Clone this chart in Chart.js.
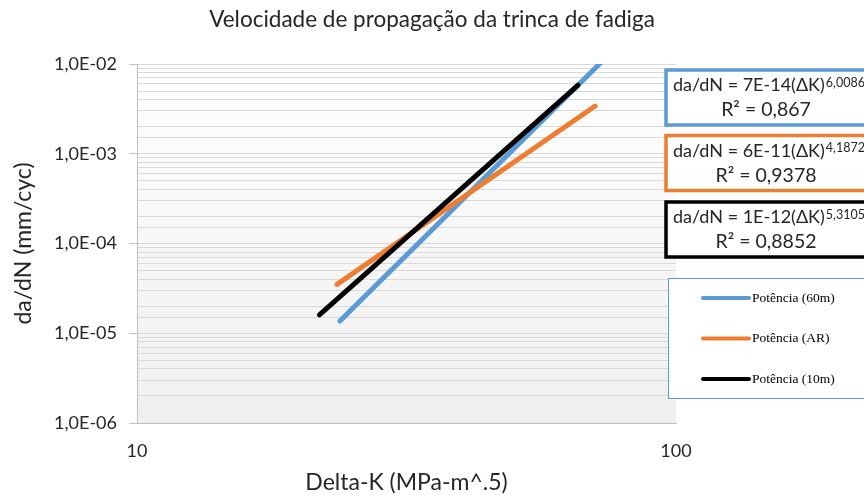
<!DOCTYPE html>
<html>
<head>
<meta charset="utf-8">
<script src="https://cdn.jsdelivr.net/npm/chart.js@4.4.0/dist/chart.umd.min.js"></script>
<style>
body { margin: 0; background: #fff; }
</style>
</head>
<body>
<canvas id="chart" width="864" height="496"></canvas>
<script>
// linhas de tendencia (potencia): pontos extremos
var seriesNames = ["Potência (60m)", "Potência (AR)", "Potência (10m)"];
var seriesColors = ["#5B9BD5", "#ED7D31", "#000000"];
var deltaK60 = [23.8, 73.5];
var dadN60 = [1.37e-5, 1.12e-2];
var deltaKAR = [23.5, 70.8];
var dadNAR = [3.5e-5, 3.4e-3];
var deltaK10 = [21.8, 65.8];
var dadN10 = [1.6e-5, 5.8e-3];

var eqTexts = ["da/dN = 7E-14(ΔK)", "da/dN = 6E-11(ΔK)", "da/dN = 1E-12(ΔK)"];
var eqExps = ["6,0086", "4,1872", "5,3105"];
var r2Texts = ["R² = 0,867", "R² = 0,9378", "R² = 0,8852"];

var xTickLabels = [10, 100];
var yTickLabels = [1e-6, 1e-5, 1e-4, 1e-3, 1e-2];

var textColor = "#262626";
var fontName = "Lato";

let toPoints = (xs, ys) => xs.map((x, i) => ({ x: x, y: ys[i] }));

let isIn = (v, list) => list.some(t => Math.abs(Math.log10(v) - Math.log10(t)) < 1e-6);

let yLabel = (v) => {
    let e = Math.round(Math.log10(v));
    return "1,0E-" + String(-e).padStart(2, "0");
}

let makeSet = (i, xs, ys, order) => {
    return {
        label: seriesNames[i],
        data: toPoints(xs, ys),
        showLine: true,
        borderColor: seriesColors[i],
        backgroundColor: seriesColors[i],
        borderWidth: 5,
        borderCapStyle: "round",
        pointRadius: 0,
        clip: 0,
        order: order
    }
}

// fundo em degrade da area do grafico
var bgPlugin = {
    id: "bg",
    beforeDraw(chart) {
        let a = chart.chartArea, ctx = chart.ctx;
        let g = ctx.createLinearGradient(0, a.top, 0, a.bottom);
        g.addColorStop(0, "#ffffff");
        g.addColorStop(1, "#efefef");
        ctx.save();
        ctx.fillStyle = g;
        ctx.fillRect(a.left, a.top, a.right - a.left, a.bottom - a.top);
        ctx.restore();
    }
}

// caixas com equacoes e legenda
var boxPlugin = {
    id: "boxes",
    afterDraw(chart) {
        let ctx = chart.ctx;
        ctx.save();
        let tops = [70, 135.5, 202];
        for (let i = 0; i < 3; i++) {
            let t = tops[i];
            ctx.fillStyle = "#ffffff";
            ctx.fillRect(666, t, 210, 55);
            ctx.strokeStyle = seriesColors[i];
            ctx.lineWidth = 3.5;
            ctx.strokeRect(666, t, 210, 55);
            ctx.fillStyle = textColor;
            ctx.textBaseline = "alphabetic";
            ctx.textAlign = "left";
            ctx.font = "18px " + fontName;
            ctx.fillText(eqTexts[i], 673, t + 21);
            let w = ctx.measureText(eqTexts[i]).width;
            ctx.font = "12.5px " + fontName;
            ctx.fillText(eqExps[i], 673 + w + 1, t + 16.5);
            ctx.font = "19.5px " + fontName;
            ctx.textAlign = "center";
            ctx.fillText(r2Texts[i], 766, t + 46);
        }
        // legenda
        ctx.fillStyle = "#ffffff";
        ctx.fillRect(668.5, 278.5, 210, 120);
        ctx.strokeStyle = "#5B9BD5";
        ctx.lineWidth = 1;
        ctx.strokeRect(668.5, 278.5, 210, 120);
        let ys = [298, 338.5, 379];
        for (let i = 0; i < 3; i++) {
            ctx.strokeStyle = seriesColors[i];
            ctx.lineWidth = 4;
            ctx.lineCap = "round";
            ctx.beginPath();
            ctx.moveTo(703, ys[i]);
            ctx.lineTo(749, ys[i]);
            ctx.stroke();
            ctx.fillStyle = "#000000";
            ctx.font = "13.5px 'Liberation Serif'";
            ctx.textAlign = "left";
            ctx.textBaseline = "middle";
            ctx.fillText(chart.data.datasets[i].label, 752, ys[i]);
        }
        ctx.restore();
    }
}

var canvas = document.getElementById("chart");

let chart = new Chart(canvas, {
    type: "scatter",
    data: {
        datasets: [
            makeSet(0, deltaK60, dadN60, 3),
            makeSet(1, deltaKAR, dadNAR, 2),
            makeSet(2, deltaK10, dadN10, 1)
        ]
    },
    options: {
        responsive: false,
        animation: false,
        layout: { padding: 0 },
        plugins: {
            legend: { display: false },
            tooltip: { enabled: false },
            title: {
                display: true,
                text: "Velocidade de propagação da trinca de fadiga",
                color: textColor,
                font: { family: fontName, size: 22.5, weight: "normal" },
                padding: { top: 6.5, bottom: 30.5 }
            }
        },
        scales: {
            x: {
                type: "logarithmic",
                min: 10,
                max: 100,
                grid: { display: false, drawTicks: false },
                border: { display: true, color: "#bfbfbf", width: 1 },
                ticks: {
                    autoSkip: false,
                    maxRotation: 0,
                    padding: 17,
                    color: textColor,
                    font: { family: fontName, size: 18 },
                    callback: (v) => isIn(v, xTickLabels) ? String(Math.round(v)) : null
                },
                title: {
                    display: true,
                    text: "Delta-K (MPa-m^.5)",
                    color: textColor,
                    font: { family: fontName, size: 23 },
                    padding: { top: 0, bottom: 0 }
                },
                afterFit: (s) => { s.height = 73; }
            },
            y: {
                type: "logarithmic",
                min: 1e-6,
                max: 1e-2,
                grid: {
                    color: "#d9d9d9",
                    tickLength: 8,
                    tickColor: (c) => (c.tick && isIn(c.tick.value, yTickLabels)) ? "#bfbfbf" : "rgba(0,0,0,0)"
                },
                border: { display: true, color: "#bfbfbf", width: 1 },
                ticks: {
                    autoSkip: false,
                    padding: 12,
                    color: textColor,
                    font: { family: fontName, size: 18 },
                    callback: (v) => isIn(v, yTickLabels) ? yLabel(v) : ""
                },
                title: {
                    display: true,
                    text: "da/dN (mm/cyc)",
                    color: textColor,
                    font: { family: fontName, size: 23 },
                    padding: { top: 10, bottom: 0 }
                },
                afterFit: (s) => { s.width = 137; }
            },
            // eixo vazio a direita so para reservar o espaco das caixas
            side: {
                type: "linear",
                position: "right",
                display: true,
                grid: { display: false, drawTicks: false },
                border: { display: false },
                ticks: { display: false },
                afterFit: (s) => { s.width = 188; }
            }
        }
    },
    plugins: [bgPlugin, boxPlugin]
});
</script>
</body>
</html>
